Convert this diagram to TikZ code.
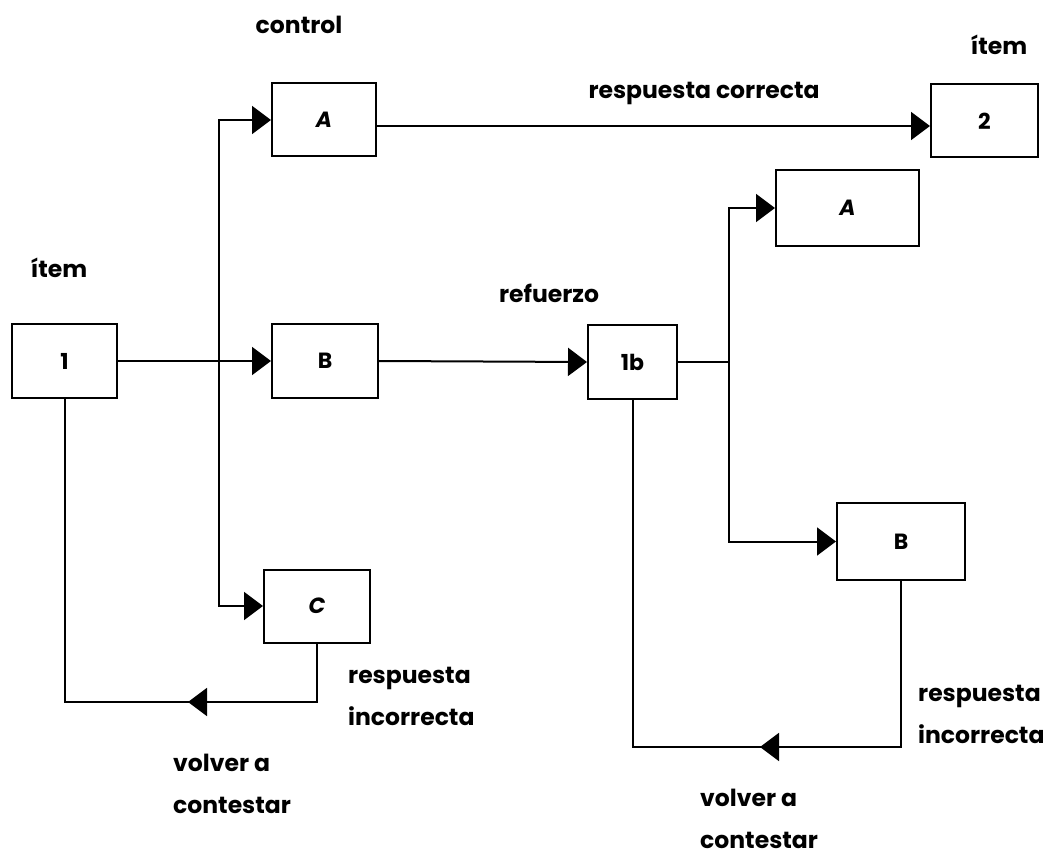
\documentclass[tikz,border=0pt]{standalone}
\usepackage{fontspec}
\setmainfont{Poppins}
\usetikzlibrary{arrows.meta}
\begin{document}
\begin{tikzpicture}[x=1pt,y=-1pt,
  box/.style={draw,line width=2pt,minimum width=#1,minimum height=73pt,inner sep=0pt,
              font=\bfseries\fontsize{22}{26}\selectfont},
  box/.default=105pt,
  wire/.style={line width=2pt},
  arr/.style={wire,-{Triangle[length=19pt,width=28pt]}},
  lbl/.style={font=\bfseries\fontsize{23.5}{42}\selectfont,inner sep=0pt,align=left}]
\useasboundingbox (0,0) rectangle (1060,858);

% boxes
\node[box]        (n1)  at (64.5,361)  {1};
\node[box=104pt]  (bA)  at (324,120)   {\itshape A};
\node[box=106pt]  (bB)  at (325,361)   {B};
\node[box=106pt]  (bC)  at (317,606)   {\itshape C};
\node[box=107pt]  (n2)  at (984.5,121) {2};
\node[box=89pt]   (n1b) at (632.5,362) {1b};
\node[box=143pt,minimum height=76pt] (rA) at (847.5,208) {\itshape A};
\node[box=128pt,minimum height=77pt] (rB) at (901,541.5) {B};

% labels
\node[lbl] (tcontrol) at (299,25)  {control};
\node[lbl] (titem1)   at (59,268)  {ítem};
\node[lbl] (titem2)   at (999,45)  {ítem};
\node[lbl] (trefuerzo) at (549,293) {refuerzo};
\node[lbl] (tcorrecta) at (704,93) {respuesta correcta};
\node[lbl,anchor=west] (tinc1) at (348,696) {respuesta\\incorrecta};
\node[lbl,anchor=west] (tvol1) at (173,784) {volver a\\contestar};
\node[lbl,anchor=west] (tinc2) at (918,714) {respuesta\\incorrecta};
\node[lbl,anchor=west] (tvol2) at (700,819) {volver a\\contestar};

% split points
\coordinate (s1) at (219,361);
\coordinate (s2) at (729,362);

% connectors from item 1
\draw[arr] (n1.east) -- (bB.west);
\draw[arr] (s1) |- (bA.west);
\draw[arr] (s1) |- (bC.west);
\draw[arr] ([yshift=-6pt]bA.east) -- ([yshift=-6pt]bA.east -| n2.west);
\draw[arr] (bB.east) -- (n1b.west);

% connectors from 1b
\draw[wire] (n1b.east) -- (s2);
\draw[arr] (s2) |- (rA.west);
\draw[arr] (s2) |- (rB.west);

% return loops
\coordinate (c1) at (bC.south |- 0,702);
\coordinate (c2) at (n1.south |- 0,702);
\coordinate (t1) at (188,702);
\draw[wire] (bC.south) -- (c1) -- (c2) -- (n1.south);
\draw[arr] (c1) -- (t1);

\coordinate (c3) at (rB.south |- 0,747);
\coordinate (c4) at (n1b.south |- 0,747);
\coordinate (t2) at (760,747);
\draw[wire] (rB.south) -- (c3) -- (c4) -- (n1b.south);
\draw[arr] (c3) -- (t2);
\end{tikzpicture}
\end{document}
